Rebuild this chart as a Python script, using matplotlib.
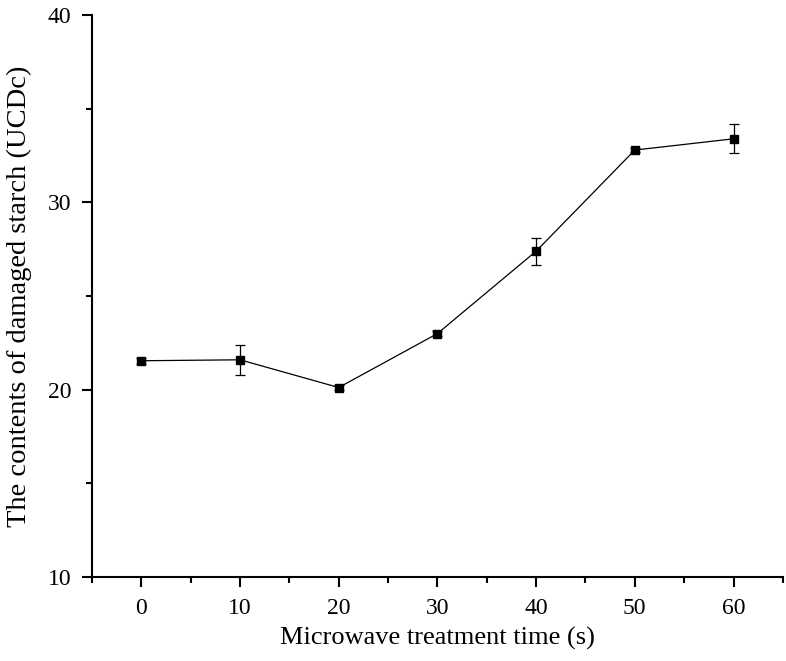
import numpy as np
import matplotlib.pyplot as plt
from matplotlib.ticker import MultipleLocator

plt.rcParams['font.family'] = ['Liberation Serif', 'DejaVu Serif']

time_s = [0, 10, 20, 30, 40, 50, 60]
damaged = [21.55, 21.6, 20.12, 23.0, 27.4, 32.8, 33.4]
err = [0.15, 0.8, 0.12, 0.15, 0.72, 0.1, 0.78]

fig = plt.figure(figsize=(7.86, 6.61), dpi=100)
ax = fig.add_axes([0.117, 0.127, 0.879, 0.850])

ax.errorbar(time_s, damaged, yerr=err, color='black', marker='s', markersize=6,
            linewidth=0.9, elinewidth=0.9, capsize=3.5, capthick=0.9)

ax.set_xlim(-5, 65)
ax.set_ylim(10, 40)
ax.xaxis.set_major_locator(MultipleLocator(10))
ax.xaxis.set_minor_locator(MultipleLocator(5))
ax.yaxis.set_major_locator(MultipleLocator(10))
ax.yaxis.set_minor_locator(MultipleLocator(5))

for s in ['top', 'right']:
    ax.spines[s].set_visible(False)
for s in ['left', 'bottom']:
    ax.spines[s].set_linewidth(1.5)

ax.tick_params(which='major', direction='out', length=7, width=1.5, labelsize=17, pad=8)
ax.tick_params(which='minor', direction='out', length=4, width=1.5)

ax.set_xlabel('Microwave treatment time (s)', fontsize=19, labelpad=6)
ax.set_ylabel('The contents of damaged starch (UCDc)', fontsize=20.5, labelpad=11)

fig.savefig('out.png', dpi=100)
